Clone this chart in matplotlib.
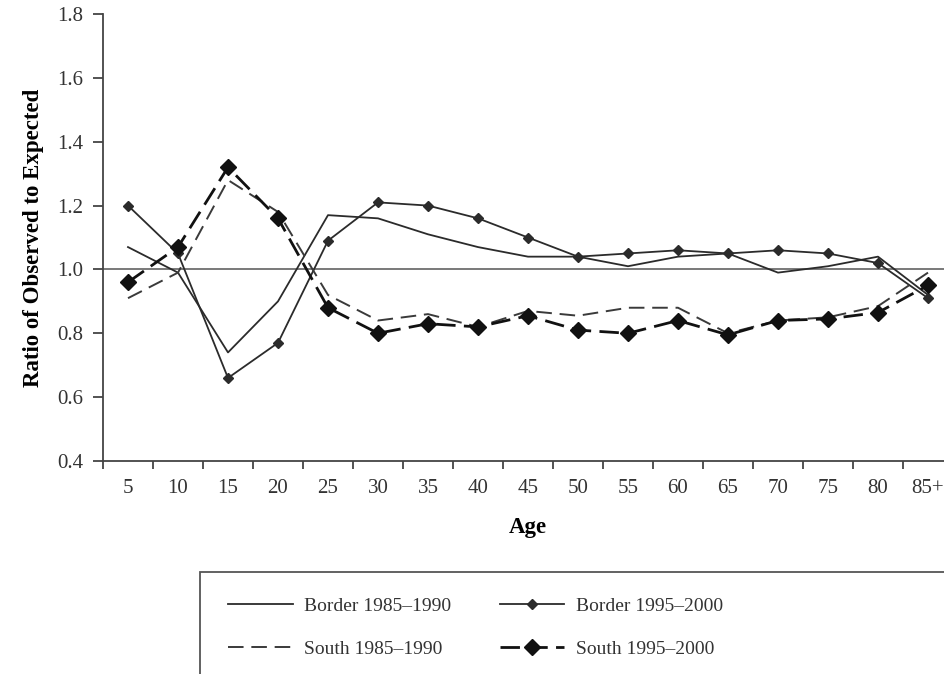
import matplotlib.pyplot as plt
from matplotlib.patches import Rectangle

ages = ['5', '10', '15', '20', '25', '30', '35', '40', '45', '50',
        '55', '60', '65', '70', '75', '80', '85+']

border_85 = [1.07, 0.99, 0.74, 0.90, 1.17, 1.16, 1.11, 1.07, 1.04, 1.04,
             1.01, 1.04, 1.05, 0.99, 1.01, 1.04, 0.92]
border_95 = [1.20, 1.05, 0.66, 0.77, 1.09, 1.21, 1.20, 1.16, 1.10, 1.04,
             1.05, 1.06, 1.05, 1.06, 1.05, 1.02, 0.91]
south_85 = [0.91, 0.99, 1.28, 1.18, 0.92, 0.84, 0.86, 0.82, 0.87, 0.855,
            0.88, 0.88, 0.80, 0.84, 0.85, 0.885, 0.99]
south_95 = [0.96, 1.07, 1.32, 1.16, 0.88, 0.80, 0.83, 0.82, 0.855, 0.81,
            0.80, 0.84, 0.795, 0.84, 0.845, 0.865, 0.95]

plt.rcParams['font.family'] = ['Liberation Serif', 'DejaVu Serif']
ink = '#2b2b2b'

fig = plt.figure(figsize=(9.45, 6.74), dpi=100)
ax = fig.add_axes([103 / 945, 1 - 461 / 674, 850 / 945, 447 / 674])

x = list(range(len(ages)))
ax.axhline(1.0, color='#555555', lw=1.1, zorder=1)

l1, = ax.plot(x, border_85, color=ink, lw=1.3, label='Border 1985\u20131990')
l2, = ax.plot(x, border_95, color=ink, lw=1.3, marker='D', ms=5,
              label='Border 1995\u20132000')
l3, = ax.plot(x, south_85, color='#3a3a3a', lw=1.4, dashes=(8, 4),
              label='South 1985\u20131990')
l4, = ax.plot(x, south_95, color='#111111', lw=2.0, dashes=(7, 3),
              marker='D', ms=8, label='South 1995\u20132000')

ax.set_xlim(-0.5, len(ages) - 0.5)
ax.set_ylim(0.4, 1.8)
ax.set_yticks([0.4, 0.6, 0.8, 1.0, 1.2, 1.4, 1.6, 1.8])
ax.set_yticklabels(['0.4', '0.6', '0.8', '1.0', '1.2', '1.4', '1.6', '1.8'])
ax.set_xticks(x)
ax.set_xticklabels(ages)
ax.set_xticks([i - 0.5 for i in range(len(ages) + 1)], minor=True)
ax.tick_params(axis='x', which='major', length=0, pad=13,
               labelsize=15, labelcolor='#333333')
ax.tick_params(axis='x', which='minor', length=6, width=1.3,
               direction='out', color='#444444')
ax.tick_params(axis='y', length=7, width=1.3, direction='out',
               color='#444444', labelsize=15, labelcolor='#333333', pad=7)

for side in ['top', 'right']:
    ax.spines[side].set_visible(False)
for side in ['left', 'bottom']:
    ax.spines[side].set_color('#444444')
    ax.spines[side].set_linewidth(1.3)

ax.set_ylabel('Ratio of Observed to Expected', fontsize=16.5,
              fontweight='bold', labelpad=10)
ax.set_xlabel('Age', fontsize=16.5, fontweight='bold', labelpad=14)

# Legend box, cut off by the bottom and right edges like the original
fig.patches.append(Rectangle((200 / 945, -0.1), 0.8, 1 - 572 / 674 + 0.1,
                             transform=fig.transFigure, fill=False,
                             edgecolor='#555555', lw=1.3))
fig.legend(handles=[l1, l3, l2, l4], ncol=2, loc='upper left',
           bbox_to_anchor=(211 / 945, 1 - 580 / 674), frameon=False,
           fontsize=14, handlelength=3.3, handletextpad=0.6,
           columnspacing=2.5, labelspacing=1.3, labelcolor='#333333')

fig.savefig('out.png', dpi=100)
